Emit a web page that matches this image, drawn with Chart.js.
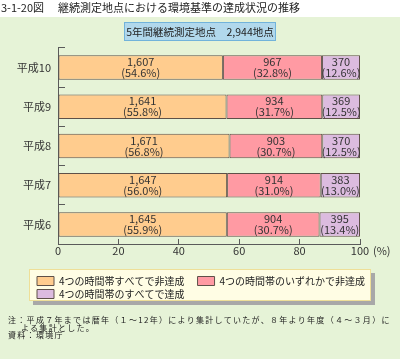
<!DOCTYPE html>
<html lang="ja">
<head>
<meta charset="utf-8">
<script src="https://cdn.jsdelivr.net/npm/chart.js@4/dist/chart.umd.min.js"></script>
<style>
html,body{margin:0;padding:0;}
body{width:400px;height:359px;background:#E6F3D7;position:relative;overflow:hidden;font-family:"Noto Sans CJK JP",sans-serif;color:#222;}
#band{position:absolute;left:0;top:0;width:400px;height:17px;background:#fff;}
#c{position:absolute;left:0;top:0;}
.t{position:absolute;white-space:nowrap;}
#title{left:0;top:0;width:400px;height:16px;font-size:11px;line-height:15px;}
#sub{left:124px;top:22px;width:152px;height:19px;box-sizing:border-box;border:1px solid #72B3DA;background:#B1D8EC;font-size:10.5px;line-height:17px;text-align:center;color:#222;}
.note{font-size:8px;letter-spacing:1.3px;line-height:9px;color:#222;}
</style>
</head>
<body>
<div id="band"></div>
<canvas id="c" width="400" height="359"></canvas>
<div class="t" id="title"><span style="position:absolute;left:1px;">3-1-20図</span><span style="position:absolute;left:58px;">継続測定地点における環境基準の達成状況の推移</span></div>
<div class="t" id="sub">5年間継続測定地点　2,944地点</div>
<div class="t note" style="left:8px;top:315px;">注：平成７年までは暦年（１～12年）により集計していたが、８年より年度（４～３月）に</div>
<div class="t note" style="left:21px;top:323px;">よる集計とした。</div>
<div class="t note" style="left:8px;top:330px;">資料：環境庁</div>
<script>
const categories = ['平成10', '平成9', '平成8', '平成7', '平成6'];
const seriesNames = ['4つの時間帯すべてで非達成', '4つの時間帯のいずれかで非達成', '4つの時間帯のすべてで達成'];
const allFailCounts = [1607, 1641, 1671, 1647, 1645];
const allFailPct = [54.6, 55.8, 56.8, 56.0, 55.9];
const someFailCounts = [967, 934, 903, 914, 904];
const someFailPct = [32.8, 31.7, 30.7, 31.0, 30.7];
const allMetCounts = [370, 369, 370, 383, 395];
const allMetPct = [12.6, 12.5, 12.5, 13.0, 13.4];
const xTicks = [0, 20, 40, 60, 80, 100];

const FONT = '"Noto Sans CJK JP", sans-serif';
Chart.defaults.font.family = FONT;
const AXIS = '#5a5a5a';
const EDGE = '#5E5048';

function fmt(n) { return String(n).replace(/\B(?=(\d{3})+(?!\d))/g, ','); }

const barLabels = {
  id: 'barLabels',
  afterDatasetsDraw(chart) {
    const ctx = chart.ctx;
    ctx.save();
    ctx.font = '11px ' + FONT;
    ctx.fillStyle = '#333';
    ctx.textAlign = 'center';
    ctx.textBaseline = 'middle';
    chart.data.datasets.forEach((ds, di) => {
      const meta = chart.getDatasetMeta(di);
      meta.data.forEach((el, i) => {
        const p = el.getProps(['x', 'y', 'base'], true);
        const cx = (p.x + p.base) / 2;
        ctx.fillText(fmt(ds.counts[i]), cx, p.y - 5.5);
        ctx.fillText('(' + ds.data[i].toFixed(1) + '%)', cx, p.y + 5.5);
      });
    });
    ctx.restore();
  }
};

const legendBox = {
  id: 'legendBox',
  afterLayout(chart) {
    const lg = chart.legend;
    if (!lg) return;
    lg.left = 34;
    lg.width = lg.right - lg.left;
  },
  beforeDraw(chart) {
    const lg = chart.legend;
    if (!lg) return;
    const ctx = chart.ctx;
    const l = lg.left - 5, t = lg.top - 4, w = lg.right - l, h = lg.height - 4;
    ctx.save();
    ctx.fillStyle = '#A8A8A8';
    ctx.fillRect(l + 4, t + 4, w, h);
    ctx.fillStyle = '#FFFDE4';
    ctx.fillRect(l, t, w, h);
    ctx.strokeStyle = '#EEDF98';
    ctx.lineWidth = 1;
    ctx.strokeRect(l + 0.5, t + 0.5, w - 1, h - 1);
    ctx.restore();
  }
};

const unitLabel = {
  id: 'unitLabel',
  afterDraw(chart) {
    const xs = chart.scales.x;
    const ctx = chart.ctx;
    ctx.save();
    ctx.font = '11px ' + FONT;
    ctx.fillStyle = '#333';
    ctx.textAlign = 'left';
    ctx.textBaseline = 'middle';
    ctx.fillText('(%)', xs.getPixelForValue(xTicks[xTicks.length - 1]) + 13, xs.top + 6.6);
    ctx.restore();
  }
};

new Chart(document.getElementById('c'), {
  type: 'bar',
  data: {
    labels: categories,
    datasets: [
      { label: seriesNames[0], data: allFailPct, counts: allFailCounts, backgroundColor: '#FFCC8E' },
      { label: seriesNames[1], data: someFailPct, counts: someFailCounts, backgroundColor: '#FF9AA3' },
      { label: seriesNames[2], data: allMetPct, counts: allMetCounts, backgroundColor: '#DCBBDF' }
    ].map(d => Object.assign(d, { borderColor: EDGE, borderWidth: 1, borderSkipped: false, barPercentage: 0.625, categoryPercentage: 1 }))
  },
  options: {
    indexAxis: 'y',
    responsive: false,
    animation: false,
    devicePixelRatio: 1,
    layout: { padding: { left: 0, right: 29, top: 48, bottom: 50 } },
    scales: {
      x: {
        type: 'linear', stacked: true, min: 0, max: 100, position: 'bottom',
        afterBuildTicks: s => { s.ticks = xTicks.map(v => ({ value: v })); },
        afterFit: s => { s.height = 29; s.paddingRight = 40; },
        ticks: { font: { size: 11 }, color: '#333', padding: 5, maxRotation: 0, minRotation: 0 },
        grid: { drawOnChartArea: false, tickLength: -5, color: AXIS },
        border: { display: true, color: AXIS, width: 1 }
      },
      y: {
        type: 'category', stacked: true,
        afterFit: s => { s.width = 58; },
        ticks: { font: { size: 11 }, color: '#333', padding: 14 },
        grid: { offset: true, drawOnChartArea: false, tickLength: -7, color: AXIS },
        border: { display: true, color: AXIS, width: 1 }
      }
    },
    plugins: {
      tooltip: { enabled: false },
      legend: {
        position: 'bottom',
        align: 'start',
        labels: {
          boxWidth: 17, boxHeight: 9, padding: 3,
          font: { size: 10 }, color: '#222',
          generateLabels(chart) {
            const items = Chart.defaults.plugins.legend.labels.generateLabels(chart);
            items[0].text += '　';
            return items;
          }
        }
      }
    }
  },
  plugins: [legendBox, barLabels, unitLabel]
});
</script>
</body>
</html>
